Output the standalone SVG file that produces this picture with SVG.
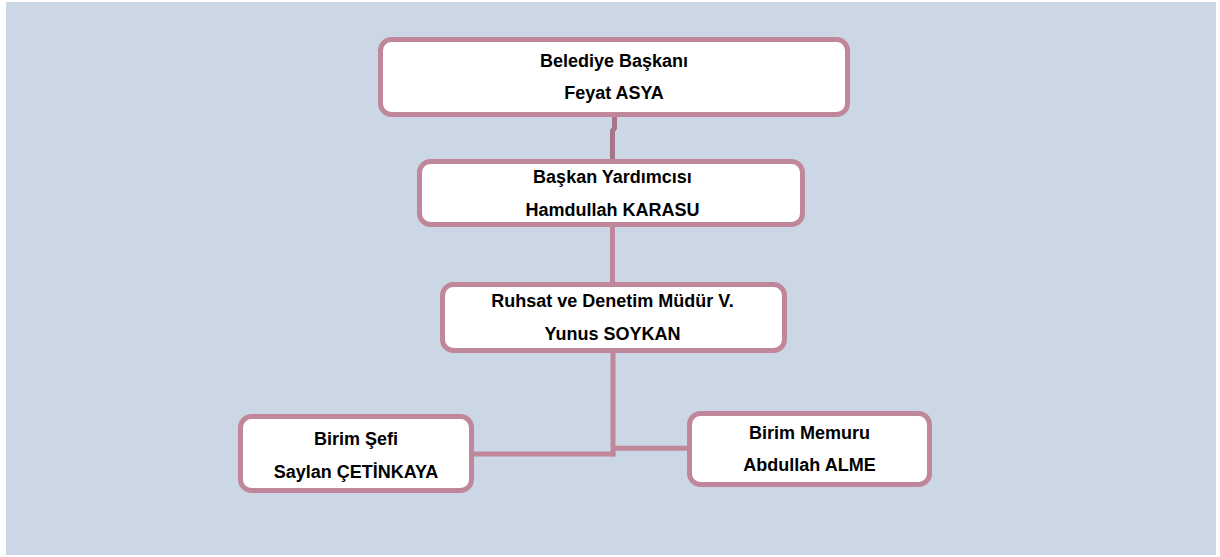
<svg xmlns="http://www.w3.org/2000/svg" width="1220" height="557" viewBox="0 0 1220 557">
<style>
.box{fill:#ffffff;stroke:#C0879A;stroke-width:5}
.con{fill:none;stroke:#C0879A;stroke-width:5}
.con1{fill:none;stroke:#A87488;stroke-width:5}
text{font-family:"Liberation Sans",Arial,sans-serif;font-weight:bold;font-size:18px;fill:#000;text-anchor:middle}
</style>
<rect x="6" y="2" width="1210" height="553" fill="#CBD7E5"/>
<g id="connectors">
<path class="con1" d="M614.5 117 V128 L612.5 131 V159"/>
<path class="con" d="M612.5 227 V282"/>
<path class="con" d="M613 353 V456.5"/>
<path class="con" d="M474 454 H615.5"/>
<path class="con" d="M613 448.3 H687"/>
</g>
<g id="belediye-baskani">
<rect class="box" x="380.5" y="39.5" width="467" height="75" rx="11"/>
<text x="614" y="67">Belediye Başkanı</text>
<text x="614" y="99">Feyat ASYA</text>
</g>
<g id="baskan-yardimcisi">
<rect class="box" x="419.5" y="161.5" width="383" height="63" rx="11"/>
<text x="612.5" y="183">Başkan Yardımcısı</text>
<text x="612.5" y="216">Hamdullah KARASU</text>
</g>
<g id="mudur">
<rect class="box" x="442.5" y="284.5" width="342" height="66" rx="11"/>
<text x="612.5" y="307">Ruhsat ve Denetim Müdür V.</text>
<text x="612.5" y="340">Yunus SOYKAN</text>
</g>
<g id="birim-sefi">
<rect class="box" x="240.5" y="416.5" width="231" height="74" rx="11"/>
<text x="356" y="445">Birim Şefi</text>
<text x="356" y="478">Saylan ÇETİNKAYA</text>
</g>
<g id="birim-memuru">
<rect class="box" x="689.5" y="413.5" width="240" height="71" rx="11"/>
<text x="809.5" y="439">Birim Memuru</text>
<text x="809.5" y="471">Abdullah ALME</text>
</g>
</svg>
